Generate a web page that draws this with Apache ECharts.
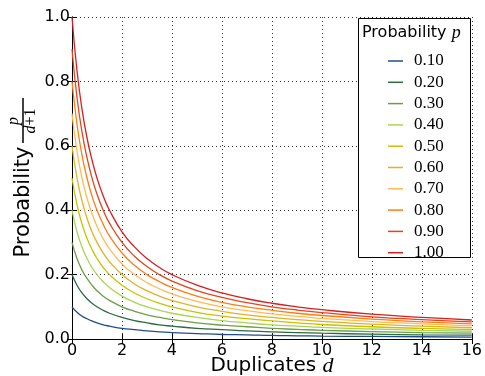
<!DOCTYPE html>
<html>
<head>
<meta charset="utf-8">
<script src="https://cdn.jsdelivr.net/npm/echarts@6/dist/echarts.min.js"></script>
<style>html,body{margin:0;padding:0;background:#fff}#c{width:485px;height:376px}</style>
</head>
<body>
<div id="c"></div>
<script>
// Sample positions along the Duplicates axis (d)
var dValues = [0, 0.2, 0.4, 0.6, 0.8, 1, 1.25, 1.5, 2, 2.5, 3, 3.5, 4, 5, 6, 7, 8, 9, 10, 12, 14, 16];
var seriesNames = ['0.10','0.20','0.30','0.40','0.50','0.60','0.70','0.80','0.90','1.00'];
var p010 = [.1,.083,.071,.063,.056,.05,.044,.04,.033,.029,.025,.022,.02,.017,.014,.013,.011,.01,.009,.008,.007,.006];
var p020 = [.2,.167,.143,.125,.111,.1,.089,.08,.067,.057,.05,.044,.04,.033,.029,.025,.022,.02,.018,.015,.013,.012];
var p030 = [.3,.25,.214,.188,.167,.15,.133,.12,.1,.086,.075,.067,.06,.05,.043,.038,.033,.03,.027,.023,.02,.018];
var p040 = [.4,.333,.286,.25,.222,.2,.178,.16,.133,.114,.1,.089,.08,.067,.057,.05,.044,.04,.036,.031,.027,.024];
var p050 = [.5,.417,.357,.313,.278,.25,.222,.2,.167,.143,.125,.111,.1,.083,.071,.063,.056,.05,.045,.038,.033,.029];
var p060 = [.6,.5,.429,.375,.333,.3,.267,.24,.2,.171,.15,.133,.12,.1,.086,.075,.067,.06,.055,.046,.04,.035];
var p070 = [.7,.583,.5,.438,.389,.35,.311,.28,.233,.2,.175,.156,.14,.117,.1,.088,.078,.07,.064,.054,.047,.041];
var p080 = [.8,.667,.571,.5,.444,.4,.356,.32,.267,.229,.2,.178,.16,.133,.114,.1,.089,.08,.073,.062,.053,.047];
var p090 = [.9,.75,.643,.563,.5,.45,.4,.36,.3,.257,.225,.2,.18,.15,.129,.113,.1,.09,.082,.069,.06,.053];
var p100 = [1,.833,.714,.625,.556,.5,.444,.4,.333,.286,.25,.222,.2,.167,.143,.125,.111,.1,.091,.077,.067,.059];
var allValues = [p010,p020,p030,p040,p050,p060,p070,p080,p090,p100];
var xTicks = [0,2,4,6,8,10,12,14,16];
var yTicks = ['0.0','0.2','0.4','0.6','0.8','1.0'];

var colors = ['#1f4f88','#2c6a40','#6f9d4a','#a9d455','#c6c400','#e2b124','#ffbb55','#ff7d14','#e2461a','#d81e1e'];

var series = seriesNames.map(function(n, i){
  return {
    name: n, type: 'line', xAxisIndex: 0, yAxisIndex: 0,
    data: dValues.map(function(d, j){ return [d, allValues[i][j]]; }),
    showSymbol: false, symbol: 'none', smooth: 0.5,
    lineStyle: {color: colors[i], width: 1.3}, itemStyle: {color: colors[i]},
    z: 2, silent: true
  };
});

var chart = echarts.init(document.getElementById('c'), null, {renderer: 'canvas'});
var axisCommon = {
  type: 'value',
  axisLine: {show: true, lineStyle: {color: '#000', width: 1}},
  axisTick: {show: true, inside: true, length: 5, lineStyle: {color: '#000'}}
};
chart.setOption({
  animation: false,
  color: colors,
  grid: {left: 72, right: 9, top: 17, bottom: 37, show: false},
  xAxis: [
    Object.assign({}, axisCommon, {
      min: 0, max: 16, interval: 2, position: 'bottom',
      axisLabel: {show: true, fontFamily: 'DejaVu Sans', fontSize: 16, color: '#000', margin: 4,
        showMinLabel: true, showMaxLabel: true,
        formatter: function(v){ return xTicks.indexOf(v) >= 0 ? String(v) : ''; }},
      splitLine: {show: true, lineStyle: {color: '#000', type: [1, 3], width: 1, opacity: 0.8}}
    }),
    Object.assign({}, axisCommon, {
      min: 0, max: 16, interval: 2, position: 'top',
      axisLabel: {show: false}, splitLine: {show: false}
    })
  ],
  yAxis: [
    Object.assign({}, axisCommon, {
      min: 0, max: 1, interval: 0.2, position: 'left',
      axisLabel: {show: true, fontFamily: 'DejaVu Sans', fontSize: 16, color: '#000', margin: 2,
        showMinLabel: true, showMaxLabel: true,
        formatter: function(v){ return yTicks[Math.round(v * 5)]; }},
      splitLine: {show: true, lineStyle: {color: '#000', type: [1, 3], width: 1, opacity: 0.8}}
    }),
    Object.assign({}, axisCommon, {
      min: 0, max: 1, interval: 0.2, position: 'right',
      axisLabel: {show: false}, splitLine: {show: false}
    })
  ],
  legend: {
    orient: 'vertical', left: 383, top: 47, z: 6,
    icon: 'rect', itemWidth: 15, itemHeight: 1.5, itemGap: 3.3,
    data: seriesNames,
    textStyle: {fontFamily: 'Liberation Serif', fontSize: 17, color: '#000', padding: [0, 0, 0, 6], lineHeight: 18},
    selectedMode: false
  },
  graphic: [
    {type: 'rect', z: 5, shape: {x: 358.5, y: 18.5, width: 112, height: 239},
      style: {fill: '#fff', stroke: '#000', lineWidth: 1}},
    {type: 'text', z: 7, x: 362, y: 33,
      style: {text: '{a|Probability }{b|p}', verticalAlign: 'middle', align: 'left',
        rich: {a: {fontFamily: 'DejaVu Sans', fontSize: 16, fill: '#000'},
               b: {fontFamily: 'Liberation Serif', fontStyle: 'italic', fontSize: 18, fill: '#000'}}}},
    {type: 'text', z: 7, x: 272, y: 366,
      style: {text: '{a|Duplicates }{b|d}', verticalAlign: 'middle', align: 'center',
        rich: {a: {fontFamily: 'DejaVu Sans', fontSize: 20, fill: '#000'},
               b: {fontFamily: 'Liberation Serif', fontStyle: 'italic', fontSize: 22, fill: '#000'}}}},
    {type: 'text', z: 7, x: 24, y: 202, rotation: Math.PI / 2,
      style: {text: 'Probability', verticalAlign: 'middle', align: 'center',
        fontFamily: 'DejaVu Sans', fontSize: 21, fill: '#000'}},
    {type: 'line', z: 7, shape: {x1: 23, y1: 98, x2: 23, y2: 143}, style: {stroke: '#000', lineWidth: 1.5}},
    {type: 'text', z: 7, x: 14, y: 121, rotation: Math.PI / 2,
      style: {text: 'p', verticalAlign: 'middle', align: 'center',
        fontFamily: 'Liberation Serif', fontStyle: 'italic', fontSize: 16, fill: '#000'}},
    {type: 'text', z: 7, x: 31, y: 121, rotation: Math.PI / 2,
      style: {text: '{b|d}{a|+1}', verticalAlign: 'middle', align: 'center',
        rich: {a: {fontFamily: 'Liberation Serif', fontSize: 16, fill: '#000'},
               b: {fontFamily: 'Liberation Serif', fontStyle: 'italic', fontSize: 16, fill: '#000'}}}}
  ],
  series: series
});
</script>
</body>
</html>
